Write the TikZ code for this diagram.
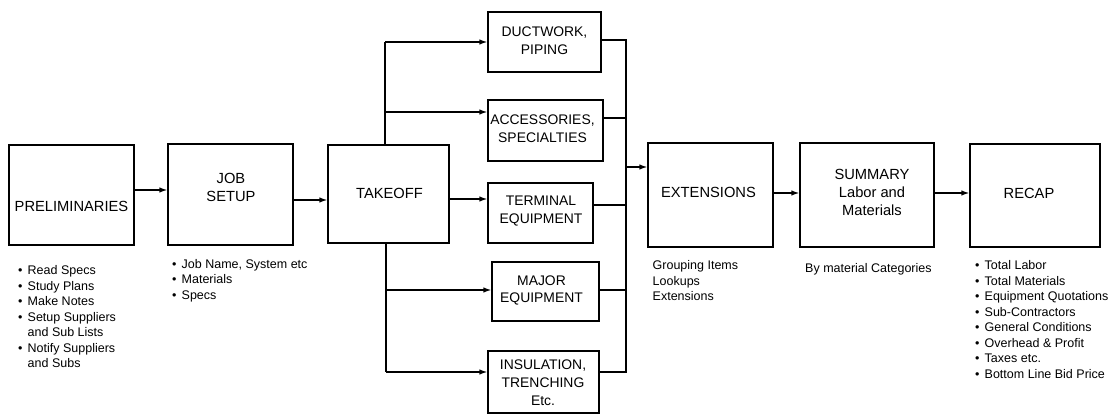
\documentclass[tikz,border=0pt]{standalone}
\usepackage{fontspec}
\setmainfont{Liberation Sans}
\usetikzlibrary{arrows.meta}

\newcommand\lblfont{\fontsize{14.7}{18}\selectfont}
\newcommand\catfont{\fontsize{13.9}{17.8}\selectfont}
\newcommand\notefont{\fontsize{12.5}{15.5}\selectfont}
\newcommand\bul{\makebox[9.5pt][l]{\textbullet}}

\tikzset{
  box/.style={draw, line width=1.3pt, inner sep=0pt},
  lbl/.style={font=\lblfont, align=center, inner sep=0pt},
  cat/.style={font=\catfont, align=center, inner sep=0pt},
  note/.style={font=\notefont, inner sep=0pt, anchor=base west},
  wire/.style={line width=1.3pt},
  arr/.style={line width=1.3pt, -{Latex[length=8pt,width=5.5pt]}},
}

\begin{document}
\begin{tikzpicture}[x=1pt,y=-1pt]
\useasboundingbox (0,0) rectangle (1118,415);

% ---- main process boxes ----
\node[box, minimum width=125pt, minimum height=100pt] (prelim) at (71.5,195) {};
\node[box, minimum width=125pt, minimum height=101pt] (job)    at (230.5,194.5) {};
\node[box, minimum width=121pt, minimum height=98pt]  (takeoff) at (388.5,194) {};
\node[box, minimum width=125pt, minimum height=104pt] (ext)    at (710.5,195) {};
\node[box, minimum width=134pt, minimum height=104pt] (summ)   at (867,195) {};
\node[box, minimum width=130pt, minimum height=103pt] (recap)  at (1035,195.5) {};

% ---- takeoff categories ----
\node[box, minimum width=113pt, minimum height=60pt] (duct)  at (544.5,42) {};
\node[box, minimum width=115pt, minimum height=61pt] (acc)   at (545.5,130.5) {};
\node[box, minimum width=105pt, minimum height=60pt] (term)  at (540.5,213) {};
\node[box, minimum width=107pt, minimum height=59pt] (major) at (545.5,291.5) {};
\node[box, minimum width=111pt, minimum height=62pt] (insul) at (543.5,382) {};

% ---- box labels ----
\node[lbl] (prelimtxt)  at (71.5,206)  {PRELIMINARIES};
\node[lbl] (jobtxt)     at (231,187)   {JOB\\SETUP};
\node[lbl] (takeofftxt) at (389.5,193) {TAKEOFF};
\node[lbl] (exttxt)     at (708.5,192) {EXTENSIONS};
\node[lbl] (summtxt)    at (872,192)   {SUMMARY\\Labor and\\Materials};
\node[lbl] (recaptxt)   at (1029,193.5) {RECAP};
\node[cat] (ducttxt)    at (544.5,41)  {DUCTWORK,\\PIPING};
\node[cat] (acctxt)     at (542.5,128.5) {ACCESSORIES,\\SPECIALTIES};
\node[cat] (termtxt)    at (541,211)   {TERMINAL\\EQUIPMENT};
\node[cat] (majortxt)   at (541.5,290.5) {MAJOR\\EQUIPMENT};
\node[cat] (insultxt)   at (543,383)   {INSULATION,\\TRENCHING\\Etc.};

% ---- notes under the boxes ----
\node[note] (prelimnotes) at (18,274.5) {\begin{tabular}[t]{@{}l@{}l@{}}
  \bul & Read Specs\\
  \bul & Study Plans\\
  \bul & Make Notes\\
  \bul & Setup Suppliers\\
       & and Sub Lists\\
  \bul & Notify Suppliers\\
       & and Subs
\end{tabular}};
\node[note] (jobnotes) at (172,268) {\begin{tabular}[t]{@{}l@{}l@{}}
  \bul & Job Name, System etc\\
  \bul & Materials\\
  \bul & Specs
\end{tabular}};
\node[note] (extnotes) at (652.5,269.5) {\begin{tabular}[t]{@{}l@{}}
  Grouping Items\\
  Lookups\\
  Extensions
\end{tabular}};
\node[note] (summnotes) at (805,272.5) {By material Categories};
\node[note] (recapnotes) at (975,269.5) {\begin{tabular}[t]{@{}l@{}l@{}}
  \bul & Total Labor\\
  \bul & Total Materials\\
  \bul & Equipment Quotations\\
  \bul & Sub-Contractors\\
  \bul & General Conditions\\
  \bul & Overhead \& Profit\\
  \bul & Taxes etc.\\
  \bul & Bottom Line Bid Price
\end{tabular}};

% ---- junction points ----
\coordinate (upTop)  at (385,42);
\coordinate (upMid)  at (385,112);
\coordinate (dnMid)  at (386,290);
\coordinate (dnBot)  at (386,372);
\coordinate (busTop) at (626,40);
\coordinate (busAcc) at (626,118);
\coordinate (busTerm) at (626,205);
\coordinate (busMaj) at (626,290);
\coordinate (busBot) at (626,372);
\coordinate (busOut) at (626,167);

% ---- main flow ----
\draw[arr] (prelim.east |- 0,190) -- (job.west |- 0,190);
\draw[arr] (job.east |- 0,200) -- (takeoff.west |- 0,200);
\draw[arr] (takeoff.east |- 0,199) -- (term.west |- 0,199);
\draw[arr] (ext.east |- 0,193) -- (summ.west |- 0,193);
\draw[arr] (summ.east |- 0,193) -- (recap.west |- 0,193);

% ---- split from takeoff ----
\draw[wire] (takeoff.north -| upTop) -- (upTop);
\draw[arr] (upTop) -- (duct.west |- upTop);
\draw[arr] (upMid) -- (acc.west |- upMid);
\draw[wire] (takeoff.south -| dnBot) -- (dnBot);
\draw[arr] (dnMid) -- (major.west |- dnMid);
\draw[arr] (dnBot) -- (insul.west |- dnBot);

% ---- collector into extensions ----
\draw[wire] (duct.east |- busTop) -- (busTop) -- (busBot) -- (insul.east |- busBot);
\draw[wire] (acc.east |- busAcc) -- (busAcc);
\draw[wire] (term.east |- busTerm) -- (busTerm);
\draw[wire] (major.east |- busMaj) -- (busMaj);
\draw[arr] (busOut) -- (ext.west |- busOut);
\end{tikzpicture}
\end{document}
